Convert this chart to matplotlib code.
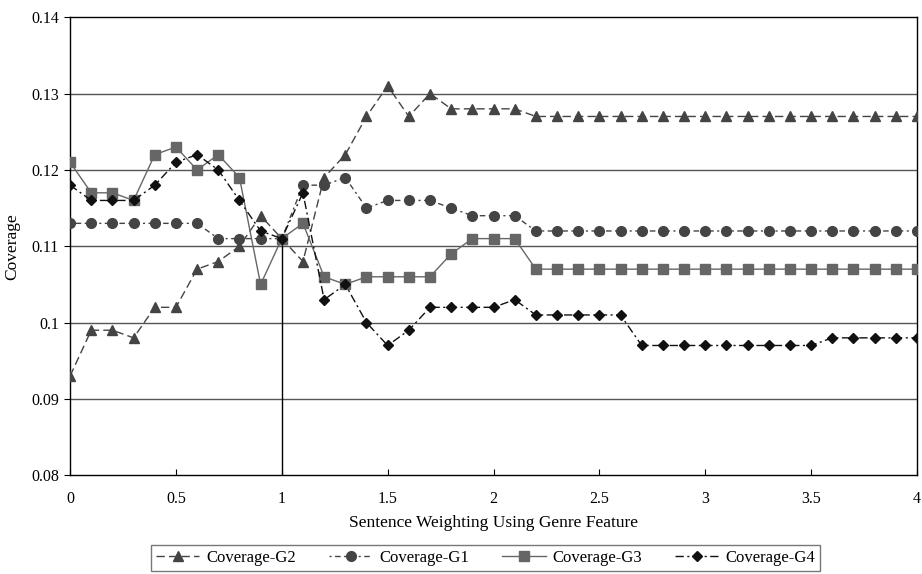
import matplotlib
matplotlib.use("Agg")
import matplotlib.pyplot as plt
import numpy as np

x = [round(i * 0.1, 1) for i in range(41)]

g2 = [0.093, 0.099, 0.099, 0.098, 0.102, 0.102, 0.107, 0.108, 0.110, 0.114,
      0.111, 0.108, 0.119, 0.122, 0.127, 0.131, 0.127, 0.130, 0.128, 0.128,
      0.128, 0.128] + [0.127] * 19
g1 = [0.113] * 7 + [0.111, 0.111, 0.111, 0.111, 0.118, 0.118, 0.119, 0.115,
      0.116, 0.116, 0.116, 0.115, 0.114, 0.114, 0.114] + [0.112] * 19
g3 = [0.121, 0.117, 0.117, 0.116, 0.122, 0.123, 0.120, 0.122, 0.119, 0.105,
      0.111, 0.113, 0.106, 0.105, 0.106, 0.106, 0.106, 0.106, 0.109, 0.111,
      0.111, 0.111] + [0.107] * 19
g4 = [0.118, 0.116, 0.116, 0.116, 0.118, 0.121, 0.122, 0.120, 0.116, 0.112,
      0.111, 0.117, 0.103, 0.105, 0.100, 0.097, 0.099, 0.102, 0.102, 0.102,
      0.102, 0.103, 0.101, 0.101, 0.101, 0.101, 0.101] + [0.097] * 9 + [0.098] * 5

xticks = [0, 0.5, 1, 1.5, 2, 2.5, 3, 3.5, 4]
xticklabels = ["0", "0.5", "1", "1.5", "2", "2.5", "3", "3.5", "4"]
yticks = [0.08, 0.09, 0.10, 0.11, 0.12, 0.13, 0.14]
yticklabels = ["0.08", "0.09", "0.1", "0.11", "0.12", "0.13", "0.14"]

plt.rcParams['font.family'] = ['Liberation Serif', 'DejaVu Serif']

fig = plt.figure(figsize=(9.22, 5.74), dpi=100)
ax = fig.add_axes([0.076, 0.172, 0.9185, 0.798])

ax.set_xlim(0, 4)
ax.set_ylim(0.08, 0.14)
for yv in yticks[1:-1]:
    ax.axhline(yv, color='#555555', lw=1.0, zorder=1)

ax.vlines(x[10], 0.08, g4[10], color='black', lw=1.0, zorder=2)

ax.plot(x, g2, color='#444444', lw=1.0, dashes=(6, 3), marker='^', ms=7,
        label='Coverage-G2', zorder=3)
ax.plot(x, g1, color='#444444', lw=1.0, dashes=(1.5, 2.5, 4, 2.5), marker='o', ms=7,
        label='Coverage-G1', zorder=3)
ax.plot(x, g3, color='#666666', lw=1.0, linestyle='-', marker='s', ms=7,
        label='Coverage-G3', zorder=3)
ax.plot(x, g4, color='#111111', lw=1.0, dashes=(6, 2.5, 1.5, 2.5), marker='D', ms=5.5,
        label='Coverage-G4', zorder=4)

ax.set_xticks(xticks)
ax.set_xticklabels(xticklabels, fontsize=11.5)
ax.set_yticks(yticks)
ax.set_yticklabels(yticklabels, fontsize=11.5)
ax.tick_params(axis='x', length=4, direction='in', pad=11)
ax.tick_params(axis='y', length=4, direction='out', pad=4)
for s in ax.spines.values():
    s.set_color('black')
    s.set_linewidth(1.0)

ax.set_xlabel('Sentence Weighting Using Genre Feature', fontsize=12.5, labelpad=6)
ax.set_ylabel('Coverage', fontsize=12.5, labelpad=8)

leg = fig.legend(*ax.get_legend_handles_labels(), loc='center',
                 bbox_to_anchor=(485.5 / 922, 1 - 558 / 574), ncol=4,
                 frameon=True, fancybox=False, edgecolor='#555555', fontsize=12,
                 handlelength=2.6, columnspacing=2.0, borderpad=0.3, handletextpad=0.4)
leg.get_frame().set_linewidth(1.0)

fig.savefig('out.png', dpi=100)
